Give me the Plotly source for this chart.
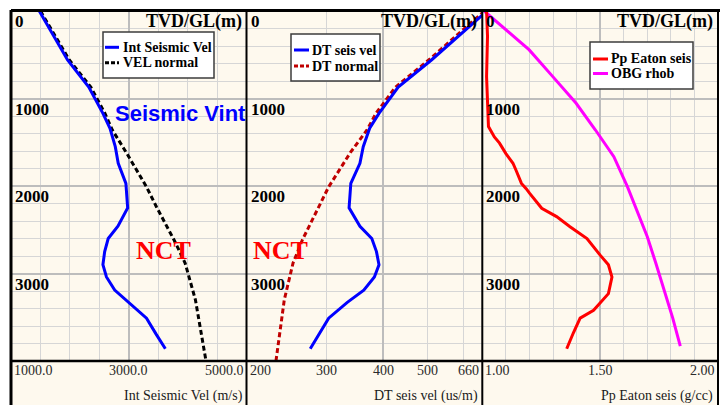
import math
import plotly.graph_objects as go

W, H = 720, 405
ML, MR, MT, MB = 11, 2, 11, 44

# ---- well-log data (depth in m TVD below ground level) ----
depth_vint = [0, 560, 870, 1170, 1340, 1550, 1740, 1970, 2250, 2460, 2600, 2750,
              2900, 3040, 3190, 3330, 3510, 3690, 3860]
int_seismic_vel = [1480, 1960, 2320, 2560, 2680, 2770, 2820, 2950, 2980, 2815, 2650,
                   2590, 2560, 2620, 2760, 3000, 3300, 3460, 3620]

depth_normal = [0, 560, 870, 1170, 1360, 1610, 2010, 2240, 2620, 2730, 2880, 3300, 3840, 4000]
vel_normal = [1500, 1990, 2355, 2595, 2720, 2950, 3300, 3470, 3770, 3850, 3955, 4130, 4270, 4310]

dt_seis_vel = [676, 510, 431, 391, 373, 361, 355, 339, 336, 355, 377, 386, 391, 382,
               362, 333, 303, 289, 276]
dt_normal = [667, 503, 425, 385, 368, 339, 303, 288, 265, 260, 253, 242, 234, 232]

depth_pp = [0, 290, 750, 1320, 1440, 1510, 1630, 1740, 1820, 1970, 2030, 2085, 2255,
            2350, 2465, 2600, 2790, 2900, 3040, 3230, 3420, 3510, 3680, 3860]
pp_eaton = [1.018, 1.022, 1.018, 1.026, 1.051, 1.073, 1.100, 1.130, 1.143, 1.166, 1.186,
            1.201, 1.252, 1.315, 1.372, 1.444, 1.500, 1.535, 1.550, 1.535, 1.472,
            1.415, 1.386, 1.358]

depth_obg = [0, 180, 445, 750, 1055, 1360, 1665, 2010, 2290, 2580, 2880, 3190, 3510, 3830]
obg_rhob = [1.008, 1.086, 1.199, 1.299, 1.398, 1.480, 1.558, 1.616, 1.657, 1.700,
            1.736, 1.772, 1.808, 1.840]

depth_labels = [0, 1000, 2000, 3000]
vel_ticks = [(1000, "1000.0", "left"), (3000, "3000.0", "center"), (5000, "5000.0", "right")]
dt_ticks = [(200, "200", "left"), (300, "300", "center"), (400, "400", "center"),
            (500, "500", "center"), (660, "660", "right")]
pp_ticks = [(1.0, "1.00", "left"), (1.5, "1.50", "center"), (2.0, "2.00", "right")]

CREAM = "#FEF9EE"
MAJOR_GRID = "#BDBDBD"
MINOR_GRID = "#D6D6D6"
SERIF = "Liberation Serif"


def fx(px):
    return (px - ML) / (W - ML - MR)


def fy(py):
    return (H - MB - py) / (H - MT - MB)


fig = go.Figure()

# normal-trend curves go underneath the measured curves
fig.add_trace(go.Scatter(x=vel_normal, y=depth_normal, mode="lines", name="VEL normal",
                         line=dict(color="#000000", width=3, dash="5px,3px"), xaxis="x", yaxis="y"))
fig.add_trace(go.Scatter(x=int_seismic_vel, y=depth_vint, mode="lines", name="Int Seismic Vel",
                         line=dict(color="#0000FF", width=3), xaxis="x", yaxis="y"))
fig.add_trace(go.Scatter(x=dt_normal, y=depth_normal, mode="lines", name="DT normal",
                         line=dict(color="#C00000", width=3, dash="5px,3px"), xaxis="x2", yaxis="y"))
fig.add_trace(go.Scatter(x=dt_seis_vel, y=depth_vint, mode="lines", name="DT seis vel",
                         line=dict(color="#0000FF", width=3), xaxis="x2", yaxis="y"))
fig.add_trace(go.Scatter(x=obg_rhob, y=depth_obg, mode="lines", name="OBG rhob",
                         line=dict(color="#FF00FF", width=3), xaxis="x3", yaxis="y"))
fig.add_trace(go.Scatter(x=pp_eaton, y=depth_pp, mode="lines", name="Pp Eaton seis",
                         line=dict(color="#FF0000", width=3), xaxis="x3", yaxis="y"))

common_x = dict(showticklabels=False, ticks="", zeroline=False, showline=False,
                gridcolor=MAJOR_GRID, gridwidth=2, anchor="y")

fig.update_layout(
    width=W, height=H,
    margin=dict(l=ML, r=MR, t=MT, b=MB),
    paper_bgcolor="white", plot_bgcolor=CREAM,
    showlegend=False,
    xaxis=dict(domain=[0, 1 / 3], range=[1000, 5000], tickvals=[3000],
               minor=dict(tickvals=[1500, 2000, 2500, 3500, 4000, 4500], showgrid=True,
                          gridcolor=MINOR_GRID, gridwidth=1, ticks=""), **common_x),
    xaxis2=dict(domain=[1 / 3, 2 / 3], type="log", range=[math.log10(200), math.log10(660)],
                tickvals=[400],
                minor=dict(tickvals=[300, 500, 600], showgrid=True,
                           gridcolor=MINOR_GRID, gridwidth=1, ticks=""), **common_x),
    xaxis3=dict(domain=[2 / 3, 1], range=[1.0, 2.0], tickvals=[1.5],
                minor=dict(tickvals=[1.1, 1.2, 1.3, 1.4, 1.6, 1.7, 1.8, 1.9], showgrid=True,
                           gridcolor=MINOR_GRID, gridwidth=1, ticks=""), **common_x),
    yaxis=dict(range=[4000, 0], tickvals=[1000, 2000, 3000], showticklabels=False, ticks="",
               zeroline=False, showline=False, gridcolor=MAJOR_GRID, gridwidth=2,
               minor=dict(tickvals=[d for d in range(200, 4000, 200) if d % 1000],
                          showgrid=True, gridcolor=MINOR_GRID, gridwidth=1, ticks="")),
)

shapes = []
# cream strip behind the axis labels
shapes.append(dict(type="rect", xref="paper", yref="paper", x0=fx(11), x1=fx(718),
                   y0=fy(405), y1=fy(361), fillcolor=CREAM, line=dict(width=0), layer="below"))
# frame
frame_lines = [
    (11, 10.5, 720, 10.5, 3),
    (11, 10, 11, 405, 3),
    (246.5, 10, 246.5, 405, 2),
    (482.3, 10, 482.3, 405, 2),
    (718, 10, 718, 405, 2),
    (11, 361, 718, 361, 2.5),
]
for x0, y0, x1, y1, w in frame_lines:
    shapes.append(dict(type="line", xref="paper", yref="paper", x0=fx(x0), x1=fx(x1),
                       y0=fy(y0), y1=fy(y1), line=dict(color="black", width=w)))

annotations = []

# legend boxes
legends = [
    ((103, 32, 214, 78), 105, 119, 121,
     [("Int Seismic Vel", "#0000FF", "solid", 47.3), ("VEL normal", "#000000", "4px,2px", 62.7)]),
    ((291, 34, 380, 81), 294, 309, 310,
     [("DT seis vel", "#0000FF", "solid", 50), ("DT normal", "#C00000", "4px,2px", 66)]),
    ((590, 42, 693, 89), 593, 608, 609,
     [("Pp Eaton seis", "#FF0000", "solid", 59), ("OBG rhob", "#FF00FF", "solid", 73.5)]),
]
for (bx0, by0, bx1, by1), sx0, sx1, tx, entries in legends:
    shapes.append(dict(type="rect", xref="paper", yref="paper", x0=fx(bx0), x1=fx(bx1),
                       y0=fy(by1), y1=fy(by0), fillcolor="white",
                       line=dict(color="#3C3C3C", width=1.5)))
    for label, color, dash, ey in entries:
        shapes.append(dict(type="line", xref="paper", yref="paper", x0=fx(sx0), x1=fx(sx1),
                           y0=fy(ey), y1=fy(ey), line=dict(color=color, width=3, dash=dash)))
        annotations.append(dict(text=label, xref="paper", yref="paper", x=fx(tx), y=fy(ey),
                                xanchor="left", yanchor="middle", showarrow=False,
                                font=dict(family=SERIF, size=14, color="black", weight="bold")))

# depth labels and track headers
for ax in ["x", "x2", "x3"]:
    for d in depth_labels:
        annotations.append(dict(text=str(d), xref=f"{ax} domain", yref="y", x=0, y=d,
                                xanchor="left", yanchor="middle", xshift=2, yshift=-10.5,
                                showarrow=False,
                                font=dict(family=SERIF, size=17, color="black", weight="bold")))
    annotations.append(dict(text="TVD/GL(m)", xref=f"{ax} domain", yref="y", x=1, y=0,
                            xanchor="right", yanchor="middle", xshift=-3, yshift=-10.5,
                            showarrow=False,
                            font=dict(family=SERIF, size=18, color="black", weight="bold")))

# bottom tick labels
tick_font = dict(family=SERIF, size=14, color="#2A2A2A")
for ax, ticks, is_log in [("x", vel_ticks, False), ("x2", dt_ticks, True), ("x3", pp_ticks, False)]:
    for v, txt, anchor in ticks:
        xv = math.log10(v) if is_log else v
        shift = {"left": 1, "center": 0, "right": -1}[anchor]
        annotations.append(dict(text=txt, xref=ax, yref="paper", x=xv, y=fy(370),
                                xanchor=anchor, yanchor="middle", xshift=shift,
                                showarrow=False, font=tick_font))

# axis titles
for txt, px in [("Int Seismic Vel (m/s)", 245), ("DT seis vel (us/m)", 480),
                ("Pp Eaton seis (g/cc)", 715)]:
    annotations.append(dict(text=txt, xref="paper", yref="paper", x=fx(px), y=fy(396),
                            xanchor="right", yanchor="middle", showarrow=False,
                            font=dict(family=SERIF, size=14, color="#1A1A1A")))

# interpretation labels
annotations.append(dict(text="Seismic Vint", xref="paper", yref="paper", x=fx(113), y=fy(113),
                        xanchor="left", yanchor="middle", showarrow=False,
                        font=dict(family="Liberation Sans", size=22, color="#0000FF",
                                  weight="bold")))
for cx in [163.5, 280.5]:
    annotations.append(dict(text="NCT", xref="paper", yref="paper", x=fx(cx), y=fy(250),
                            xanchor="center", yanchor="middle", showarrow=False,
                            font=dict(family=SERIF, size=26, color="#FF0000", weight="bold")))

fig.update_layout(shapes=shapes, annotations=annotations)
fig.write_html("out.html")
